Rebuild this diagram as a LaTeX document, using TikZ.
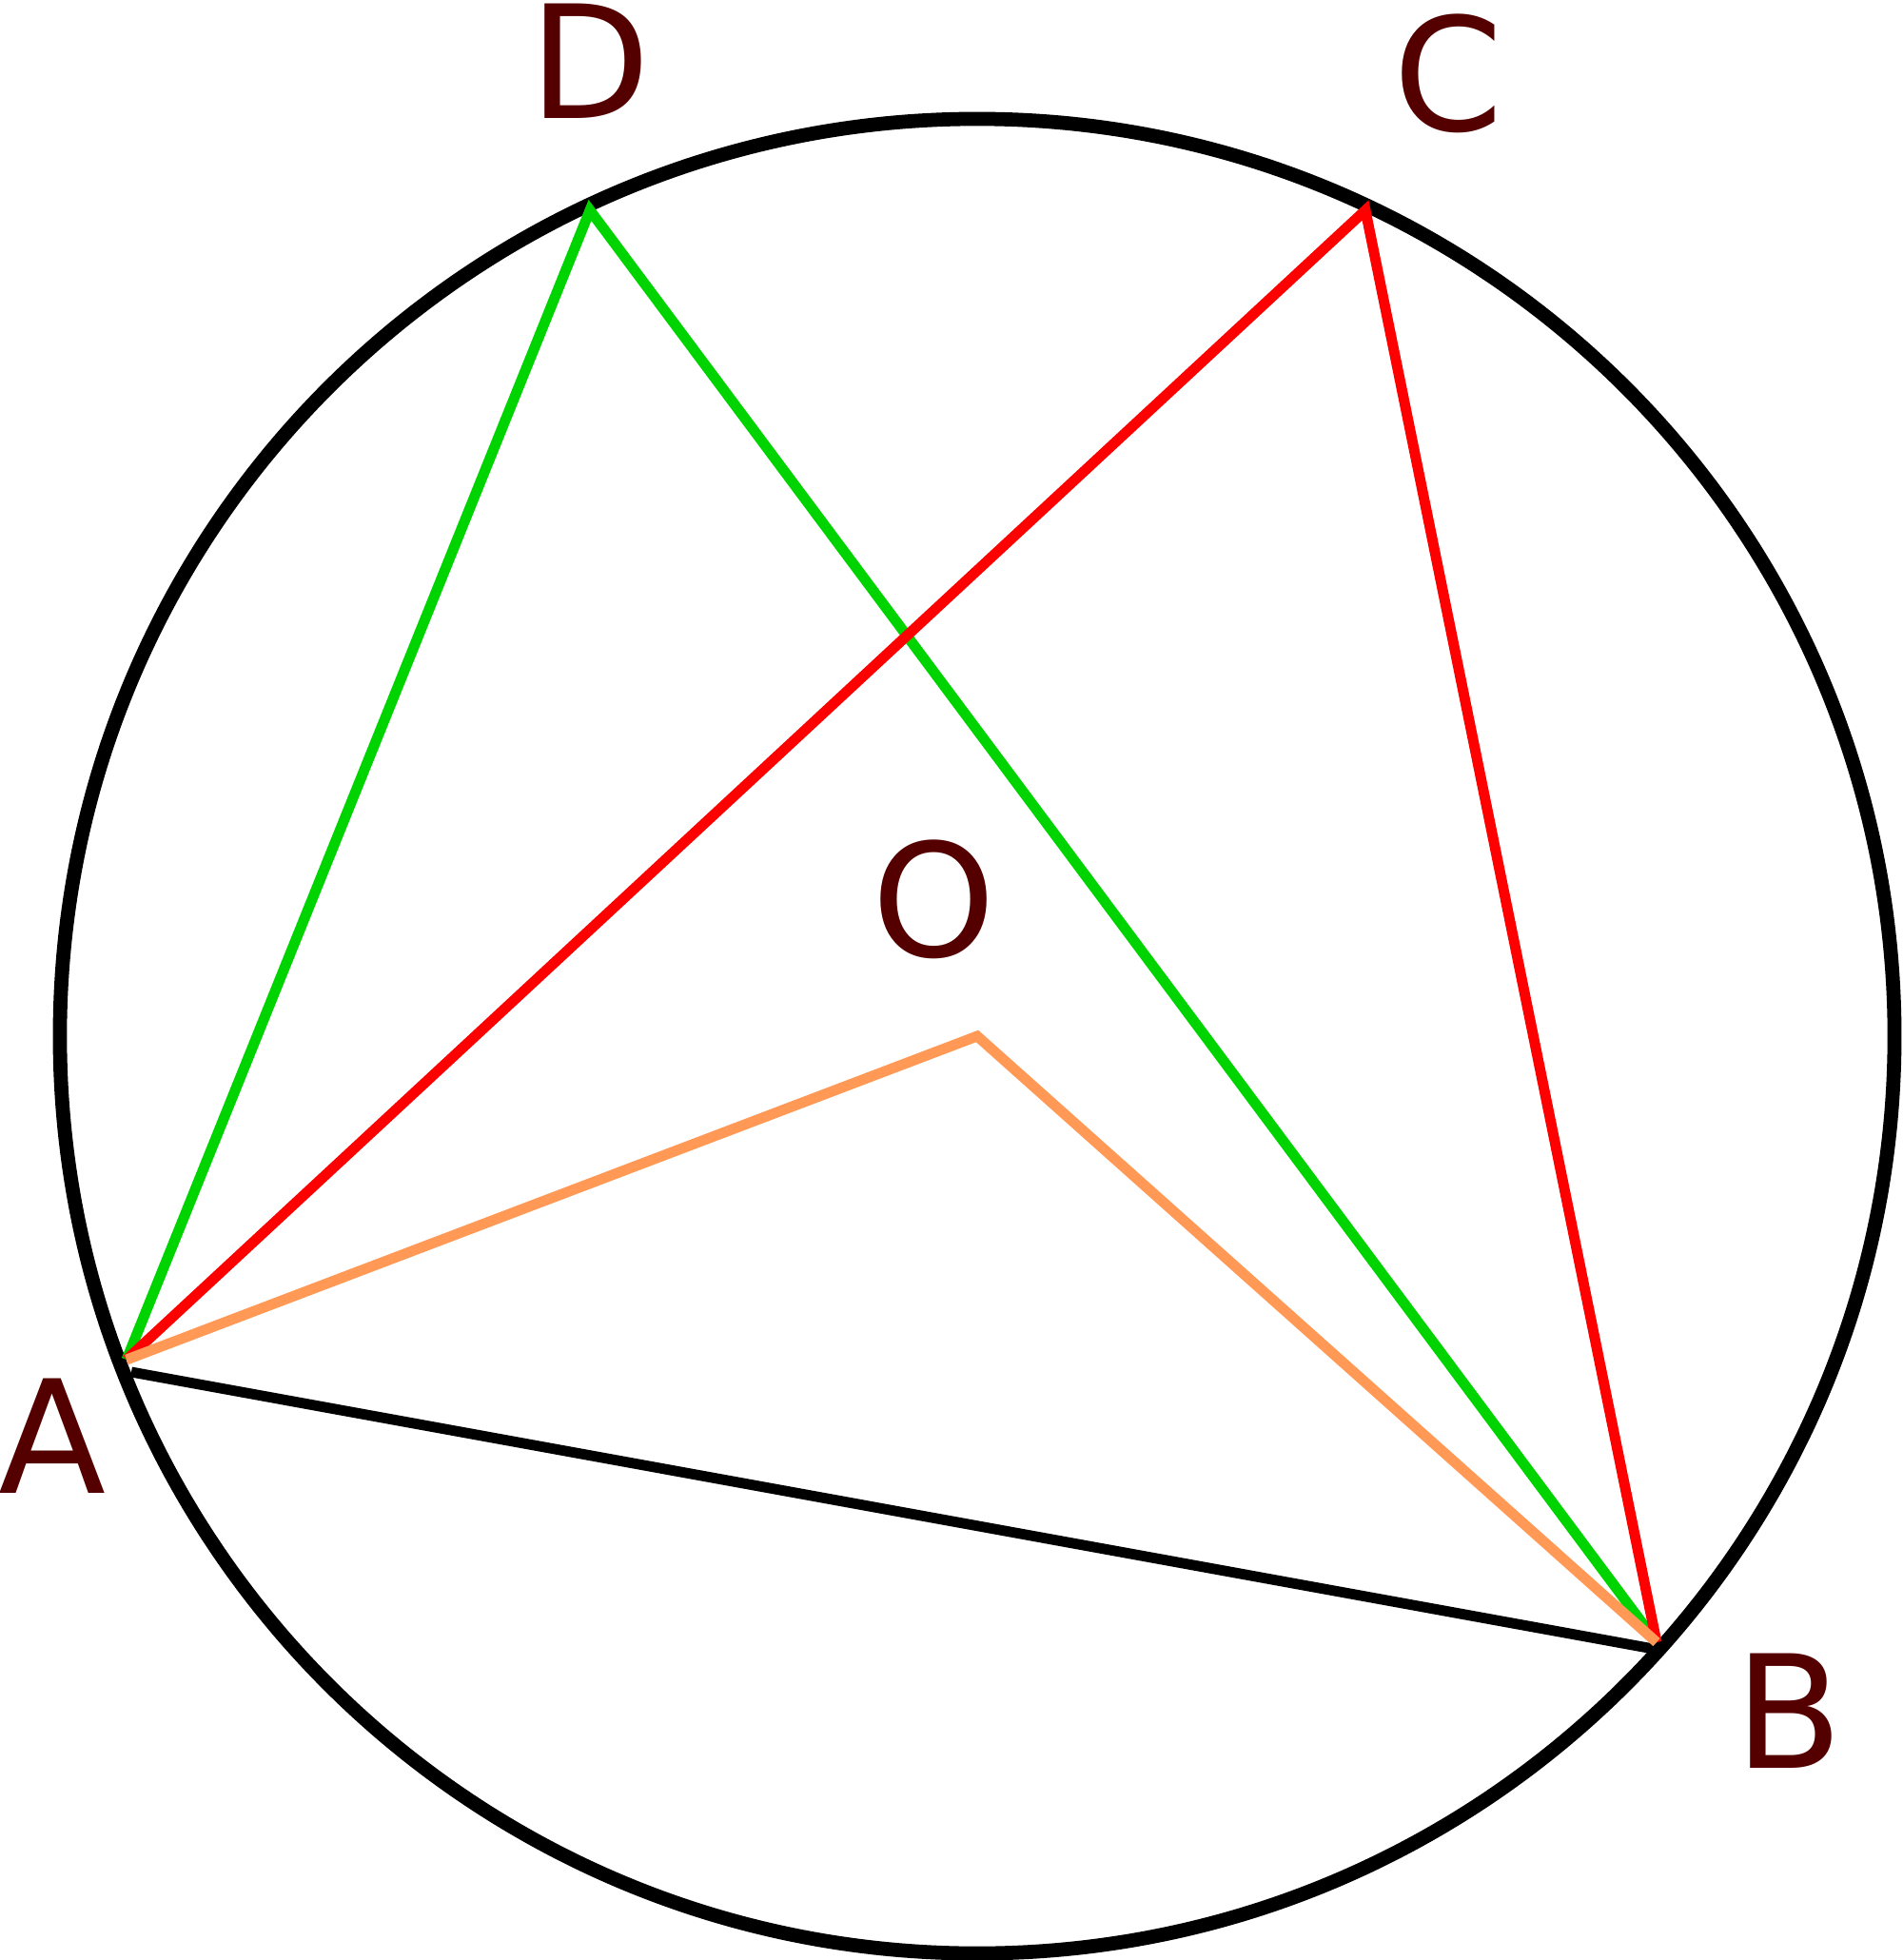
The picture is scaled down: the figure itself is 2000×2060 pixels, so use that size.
\documentclass[tikz,border=0pt]{standalone}
\usepackage{fontspec}
\setmainfont{DejaVu Sans}
\usepackage{xcolor}
\definecolor{darkred}{RGB}{85,0,0}
\definecolor{chordgreen}{RGB}{0,212,0}
\definecolor{chordred}{RGB}{255,0,0}
\definecolor{chordorange}{RGB}{255,153,85}

\begin{document}
\begin{tikzpicture}[x=0.01cm, y=-0.01cm,
    chord/.style={line width=3.1pt, miter limit=20},
    letter/.style={text=darkred, font=\fontsize{47}{56}\selectfont, inner sep=0pt}]
  \useasboundingbox (0,0) rectangle (2000,2060);

  % points on the circle
  \coordinate (O) at (1027,1089);
  \coordinate (A) at (133,1429);
  \coordinate (B) at (1741,1726);
  \coordinate (C) at (1435,221);
  \coordinate (D) at (620,221);
  \coordinate (A2) at (138,1442);
  \coordinate (B2) at (1738,1733);

  \draw[line width=4.2pt] (O) circle[radius=9.635cm];
  \draw[chord] (A2) -- (B2);
  \draw[chord, chordgreen] (A) -- (D) -- (B);
  \draw[chord, chordred] (A) -- (C) -- (B);
  \draw[chord, chordorange] (A) -- (O) -- (B);

  \node[letter] (labA) at (55,1509) {A};
  \node[letter] (labB) at (1880,1798) {B};
  \node[letter] (labC) at (1522,77) {C};
  \node[letter] (labD) at (620,64) {D};
  \node[letter] (labO) at (982,945) {O};
\end{tikzpicture}
\end{document}
